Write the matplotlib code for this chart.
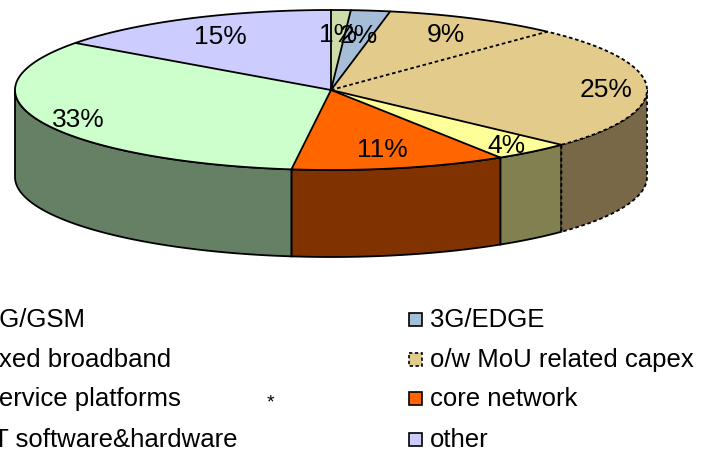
import numpy as np
import matplotlib.pyplot as plt
from matplotlib.patches import Polygon, Rectangle

# capex split by category, in percent
labels = ["2G/GSM", "3G/EDGE", "fixed broadband", "o/w MoU related capex",
          "service platforms", "core network", "IT software&hardware", "other"]
shares = [1, 2, 9, 25, 4, 11, 33, 15]

top_colors = ["#CCDDAA", "#A6BDD7", "#E3CB8B", "#E3CB8B",
              "#FFFF99", "#FF6600", "#CCFFCC", "#CCCCFF"]
side_colors = ["#66705A", "#53606C", "#726646", "#786848",
               "#808050", "#803300", "#668066", "#666680"]
edge_styles = ["-", "-", "-", (0, (2, 1.5)), "-", "-", "-", "-"]
label_radius = [0.71, 0.70, 0.80, 0.87, 0.87, 0.74, 0.87, 0.77]

FONT = ["Liberation Sans", "DejaVu Sans"]

# ellipse of the pie top (pixel units) and thickness of the disc
cx, cy, rx, ry, depth = 331, 90, 316, 80, 87


def rim(theta, drop=0.0):
    t = np.radians(theta)
    return np.column_stack([cx + rx * np.sin(t), cy - ry * np.cos(t) + drop])


fig = plt.figure(figsize=(7.14, 4.51), dpi=100)
ax = fig.add_axes([0, 0, 1, 1])
ax.set_xlim(0, 714)
ax.set_ylim(451, 0)
ax.axis("off")

bounds = np.concatenate([[0], np.cumsum(shares)]) / sum(shares) * 360

# visible side walls (front half of the disc)
for i in [4, 5, 6, 0, 1, 2, 3, 7]:
    lo, hi = max(bounds[i], 90), min(bounds[i + 1], 270)
    if lo >= hi:
        continue
    ts = np.linspace(lo, hi, 80)
    pts = np.vstack([rim(ts), rim(ts[::-1], depth)])
    ax.add_patch(Polygon(pts, closed=True, facecolor=side_colors[i],
                         edgecolor="black", lw=1.3, ls=edge_styles[i], zorder=1))

# top faces
for i in range(len(shares)):
    ts = np.linspace(bounds[i], bounds[i + 1], 120)
    pts = np.vstack([[cx, cy], rim(ts)])
    ax.add_patch(Polygon(pts, closed=True, facecolor=top_colors[i],
                         edgecolor="none", zorder=2))

# outlines: leading radius plus outer arc of every slice
for i in range(len(shares)):
    ts = np.linspace(bounds[i], bounds[i + 1], 120)
    pts = np.vstack([[cx, cy], rim(ts)])
    ax.plot(pts[:, 0], pts[:, 1], color="black", lw=1.3, ls=edge_styles[i],
            zorder=3, solid_capstyle="round")

# percentage labels
for i, v in enumerate(shares):
    mid = (bounds[i] + bounds[i + 1]) / 2
    x, y = rim(np.array([mid]))[0]
    x = cx + (x - cx) * label_radius[i]
    y = cy + (y - cy) * label_radius[i]
    ax.text(x, y + 9, f"{v}%", ha="center", va="baseline",
            fontsize=19, family=FONT, zorder=4)

# legend, two columns filled row by row
col_text_x = [-14, 430]
row_base_y = [327, 367, 406, 447]
box = 13
for k, name in enumerate(labels):
    row, col = divmod(k, 2)
    tx, by = col_text_x[col], row_base_y[row]
    ax.add_patch(Rectangle((tx - 21, by - 8 - box / 2), box, box,
                           facecolor=top_colors[k], edgecolor="black",
                           lw=1.2, ls=edge_styles[k], zorder=4))
    ax.text(tx, by, name, ha="left", va="baseline", fontsize=18.5, family=FONT)

ax.text(270, 407, "*", ha="center", va="baseline", fontsize=14, family=FONT)

fig.savefig("out.png", dpi=100)
